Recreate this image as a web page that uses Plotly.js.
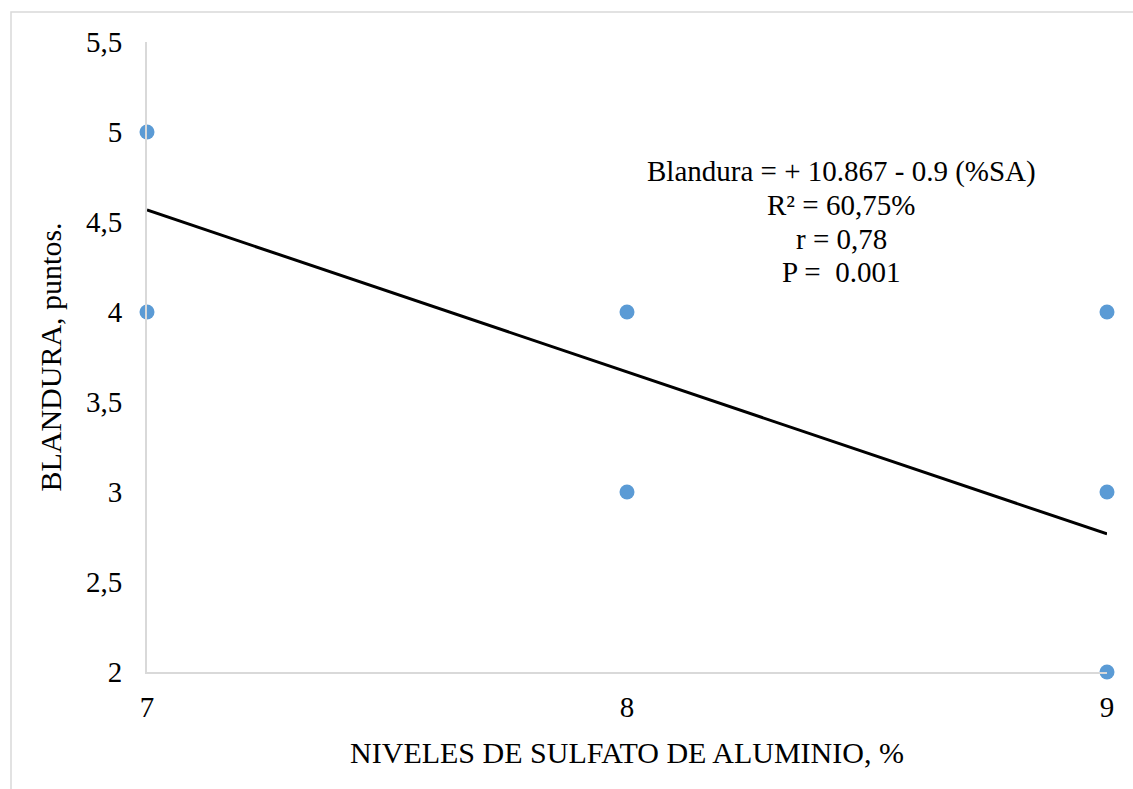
<!DOCTYPE html>
<html>
<head>
<meta charset="utf-8">
<script src="https://cdn.plot.ly/plotly-3.0.1.min.js"></script>
<style>
  html, body { margin: 0; padding: 0; background: #fff; }
  #chart { width: 1133px; height: 789px; }
</style>
</head>
<body>
<div id="chart"></div>
<script>
// Data
const nivelesSA = [7, 7, 8, 8, 9, 9, 9];
const blandura = [5, 4, 4, 3, 4, 3, 2];
const trendX = [7, 9];
const intercept = [10.867];
const slope = [-0.9];
const yTickVals = [2, 2.5, 3, 3.5, 4, 4.5, 5, 5.5];
const yTickText = ['2', '2,5', '3', '3,5', '4', '4,5', '5', '5,5'];
const xTickVals = [7, 8, 9];
const xTickText = ['7', '8', '9'];
const eqLines = ['Blandura = + 10.867 - 0.9 (%SA)', 'R² = 60,75%', 'r = 0,78', 'P =  0.001'];

const trendY = trendX.map(x => intercept[0] + slope[0] * x);

const font = 'Liberation Serif, Times New Roman, serif';

const traces = [
  {
    x: trendX, y: trendY, type: 'scatter', mode: 'lines',
    line: { color: '#000000', width: 3 },
    hoverinfo: 'skip', showlegend: false, cliponaxis: false
  },
  {
    x: nivelesSA, y: blandura, type: 'scatter', mode: 'markers',
    marker: { color: '#5B9BD5', size: 15 },
    showlegend: false, cliponaxis: false
  }
];

const annotations = eqLines.map((t, i) => ({
  xref: 'x', yref: 'y', x: 8.446, y: 4.778, yshift: -i * 33.5,
  text: t, showarrow: false,
  align: 'center', xanchor: 'center', yanchor: 'middle',
  font: { family: font, size: 29, color: '#000' }
}));

const layout = {
  width: 1133, height: 789,
  margin: { l: 147, r: 26, t: 42, b: 117 },
  paper_bgcolor: '#ffffff', plot_bgcolor: '#ffffff',
  font: { family: font, color: '#000000', size: 29 },
  xaxis: {
    range: [7, 9], tickvals: xTickVals, ticktext: xTickText,
    showgrid: false, zeroline: false,
    showline: true, linecolor: '#D9D9D9', linewidth: 2,
    ticks: '', ticklabelstandoff: 8,
    tickfont: { family: font, size: 29, color: '#000' },
    title: { text: 'NIVELES DE SULFATO DE ALUMINIO, %', font: { family: font, size: 30, color: '#000' }, standoff: 20 }
  },
  yaxis: {
    range: [2, 5.5], tickvals: yTickVals, ticktext: yTickText,
    showgrid: false, zeroline: false,
    showline: true, linecolor: '#D9D9D9', linewidth: 2,
    ticks: '', ticklabelstandoff: 17,
    tickfont: { family: font, size: 29, color: '#000' },
    title: { text: 'BLANDURA, puntos.', font: { family: font, size: 30, color: '#000' }, standoff: 15 }
  },
  annotations: annotations,
  shapes: [
    {
      type: 'rect', xref: 'paper', yref: 'paper',
      x0: (11 - 147) / 960, x1: (1140 - 147) / 960,
      y0: (672 - 800) / 630, y1: (672 - 12) / 630,
      line: { color: '#D9D9D9', width: 1.5 }, fillcolor: 'rgba(0,0,0,0)', layer: 'below'
    }
  ]
};

Plotly.newPlot('chart', traces, layout, { displayModeBar: false, staticPlot: true });
</script>
</body>
</html>
